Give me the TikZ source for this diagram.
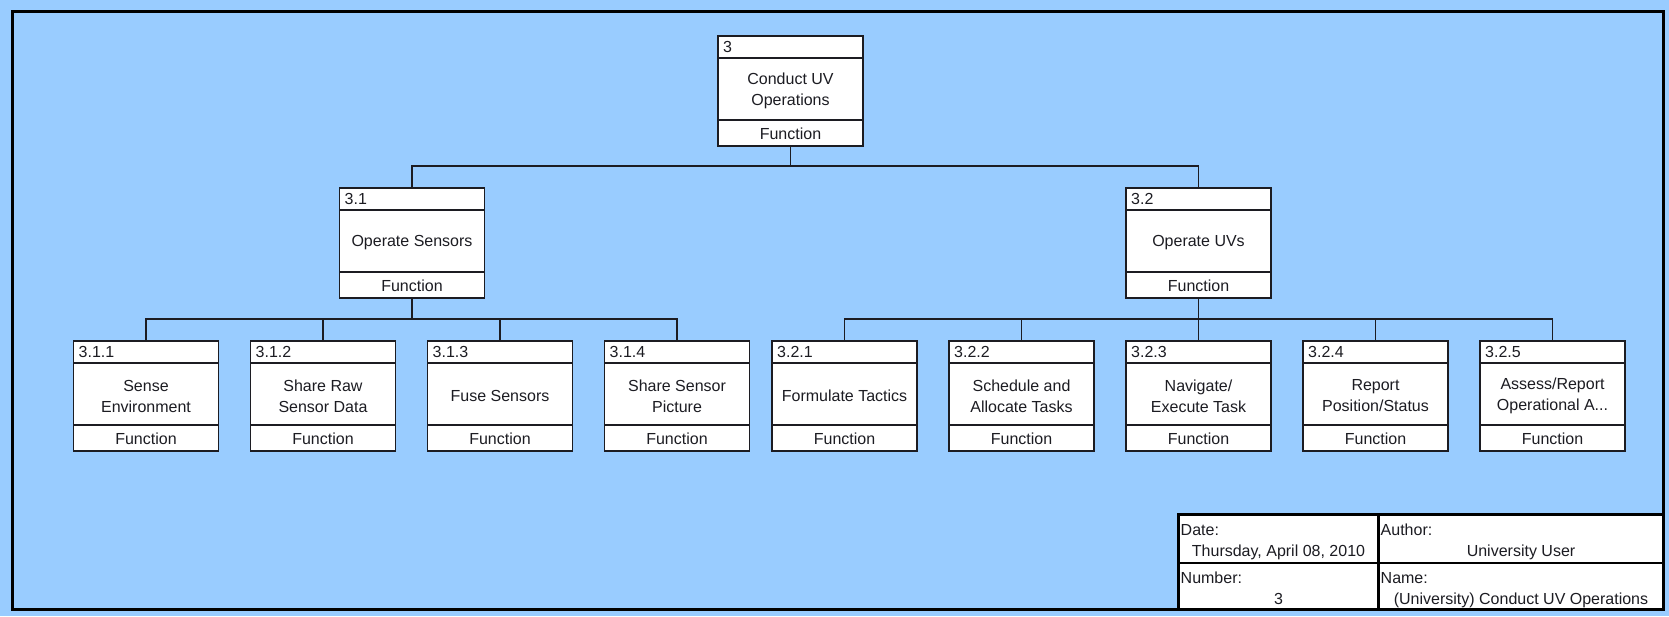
\documentclass[tikz,border=0pt]{standalone}
\usepackage{fontspec}
\setmainfont{Liberation Sans}
\usetikzlibrary{positioning,calc}
\definecolor{sheet}{RGB}{153,204,255}
\definecolor{ink}{RGB}{28,28,34}

\begin{document}
\begin{tikzpicture}[x=1pt, y=-1pt, font=\fontsize{16}{21}\selectfont, text=ink,
fbox/.style={draw=ink, fill=white, line width=1.6pt, minimum width=145pt, minimum height=110pt, inner sep=2pt, outer sep=0pt, align=center, anchor=north,
  path picture={\draw[line width=1.3pt, ink] ([yshift=-22pt]path picture bounding box.north west) -- ([yshift=-22pt]path picture bounding box.north east);
    \draw[line width=1.3pt, ink] ([yshift=26pt]path picture bounding box.south west) -- ([yshift=26pt]path picture bounding box.south east);},
  label={[anchor=south, inner sep=6.5pt]south:Function}},
fnum/.style={label={[anchor=north west, inner sep=5pt]north west:#1}},
conn/.style={draw=ink, line width=1.6pt},
tcell/.style={draw=black, fill=white, line width=2.5pt, anchor=north west, outer sep=0pt},
tkey/.style={anchor=base west, inner sep=0pt},
tval/.style={anchor=base, inner sep=0pt}]
\fill[sheet] (0,0) rectangle (1669,616);
\useasboundingbox (0,0) rectangle (1669,616);
\draw[line width=3pt, black] (12.5,11.5) rectangle (1663.5,609);
% function tree
\node[fbox, fnum=3] (n3) at (790.5,36) {Conduct UV\\Operations};
\node[fbox, fnum=3.1] (n31) at (412,188) {Operate Sensors};
\node[fbox, fnum=3.2] (n32) at (1198.5,188) {Operate UVs};
\node[fbox, fnum=3.1.1] (n311) at (146,341) {Sense\\Environment};
\node[fbox, fnum=3.1.2, right=32pt of n311] (n312) {Share Raw\\Sensor Data};
\node[fbox, fnum=3.1.3, right=32pt of n312] (n313) {Fuse Sensors};
\node[fbox, fnum=3.1.4, right=32pt of n313] (n314) {Share Sensor\\Picture};
\node[fbox, fnum=3.2.1, right=22.5pt of n314] (n321) {Formulate Tactics};
\node[fbox, fnum=3.2.2, right=32pt of n321] (n322) {Schedule and\\Allocate Tasks};
\node[fbox, fnum=3.2.3, right=32pt of n322] (n323) {Navigate/\\Execute Task};
\node[fbox, fnum=3.2.4, right=32pt of n323] (n324) {Report\\Position/Status};
\node[fbox, fnum=3.2.5, right=32pt of n324] (n325) {Assess/Report\\Operational A...};
\draw[conn] (n3.south) -- ++(0,20) -| (n31.north);
\draw[conn] (n3.south) -- ++(0,20) -| (n32.north);
\foreach \c in {n311,n312,n313,n314}
  \draw[conn] (n31.south) -- ++(0,21) -| (\c.north);
\foreach \c in {n321,n322,n323,n324,n325}
  \draw[conn] (n32.south) -- ++(0,21) -| (\c.north);
% title block
\node[tcell, minimum width=200pt, minimum height=48.5pt] (tdate) at (1178.5,514.5) {};
\node[tcell, minimum width=285pt, minimum height=48.5pt] (tauth) at (1378.5,514.5) {};
\node[tcell, minimum width=200pt, minimum height=46pt] (tnum) at (1178.5,563) {};
\node[tcell, minimum width=285pt, minimum height=46pt] (tname) at (1378.5,563) {};
\node[tkey] (kdate) at ($(tdate.north west)+(2,20.5)$) {Date:};
\node[tval] (vdate) at ($(tdate.north)+(0,42)$) {Thursday, April 08, 2010};
\node[tkey] (kauth) at ($(tauth.north west)+(2,20.5)$) {Author:};
\node[tval] (vauth) at ($(tauth.north)+(0,42)$) {University User};
\node[tkey] (knum) at ($(tnum.north west)+(2,20)$) {Number:};
\node[tval] (vnum) at ($(tnum.north)+(0,41)$) {3};
\node[tkey] (kname) at ($(tname.north west)+(2,20)$) {Name:};
\node[tval] (vname) at ($(tname.north)+(0,41)$) {(University) Conduct UV Operations};
\end{tikzpicture}
\end{document}
